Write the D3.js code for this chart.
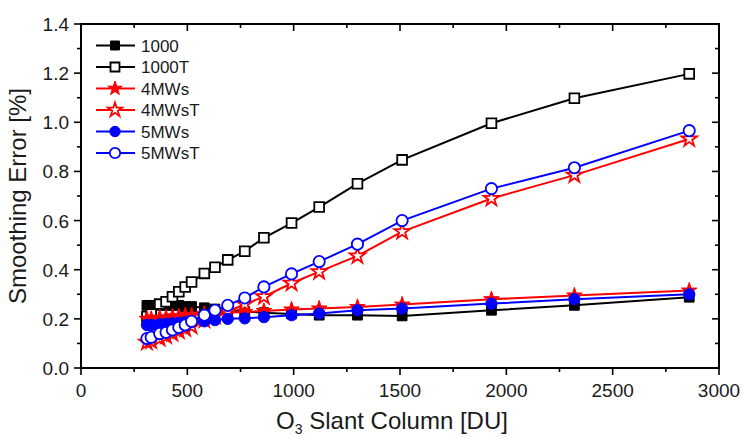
<!DOCTYPE html>
<meta charset="utf-8">
<style>
body { margin: 0; background: #fff; font-family: "Liberation Sans", Arial, sans-serif; }
svg text { fill: #1a1a1a; }
</style>
<body>
<div id="chart"></div>
<script src="https://d3js.org/d3.v7.min.js"></script>
<script>

// O3 slant column [DU]
const slant = [310, 330, 370, 400, 430, 460, 490, 520, 580, 630, 690, 770, 860, 990, 1120, 1300, 1510, 1930, 2320, 2860];

const err1000   = [0.255, 0.255, 0.255, 0.255, 0.255, 0.255, 0.25, 0.25, 0.245, 0.24, 0.235, 0.23, 0.225, 0.22, 0.215, 0.215, 0.212, 0.235, 0.255, 0.288];
const err1000T  = [0.21, 0.22, 0.26, 0.27, 0.29, 0.31, 0.33, 0.35, 0.385, 0.41, 0.44, 0.475, 0.53, 0.59, 0.655, 0.75, 0.847, 0.996, 1.098, 1.197];
const err4MWs   = [0.2, 0.2, 0.205, 0.205, 0.21, 0.21, 0.215, 0.215, 0.22, 0.22, 0.225, 0.228, 0.232, 0.238, 0.242, 0.248, 0.258, 0.28, 0.295, 0.315];
const err4MWsT  = [0.105, 0.11, 0.12, 0.13, 0.14, 0.15, 0.16, 0.17, 0.195, 0.21, 0.23, 0.26, 0.29, 0.345, 0.392, 0.456, 0.555, 0.69, 0.785, 0.932];
const err5MWs   = [0.175, 0.175, 0.178, 0.18, 0.182, 0.184, 0.186, 0.188, 0.19, 0.195, 0.2, 0.202, 0.207, 0.215, 0.222, 0.235, 0.242, 0.262, 0.28, 0.30];
const err5MWsT  = [0.12, 0.125, 0.14, 0.145, 0.155, 0.165, 0.175, 0.19, 0.215, 0.235, 0.255, 0.285, 0.33, 0.383, 0.433, 0.504, 0.60, 0.73, 0.815, 0.966];

const seriesNames = ["1000", "1000T", "4MWs", "4MWsT", "5MWs", "5MWsT"];
const seriesVals  = [err1000, err1000T, err4MWs, err4MWsT, err5MWs, err5MWsT];
const seriesColor = ["#000", "#000", "#ff0000", "#ff0000", "#0000ff", "#0000ff"];
const seriesShape = ["square", "square", "star", "star", "circle", "circle"];
const seriesOpen  = [false, true, false, true, false, true];

const xTicks = [0, 500, 1000, 1500, 2000, 2500, 3000];
const yTicks = [0.0, 0.2, 0.4, 0.6, 0.8, 1.0, 1.2, 1.4];

const width = 742, height = 439;
const margin = {top: 24, right: 23, bottom: 71, left: 81};

const svg = d3.select("#chart").append("svg")
  .attr("width", width)
  .attr("height", height);

const x = d3.scaleLinear().domain([0, 3000]).range([margin.left, width - margin.right]);
const y = d3.scaleLinear().domain([0, 1.4]).range([height - margin.bottom, margin.top]);

const x0 = x.range()[0], x1 = x.range()[1], y0 = y.range()[0], y1 = y.range()[1];

// frame
svg.append("rect")
  .attr("x", x0).attr("y", y1)
  .attr("width", x1 - x0).attr("height", y0 - y1)
  .attr("fill", "none").attr("stroke", "#000").attr("stroke-width", 2);

const minorX = d3.range(0, 3001, 250);
const minorY = d3.range(0, 1.41, 0.1);

const tk = svg.append("g").attr("stroke", "#000").attr("stroke-width", 1.6);
// bottom (out) + top (in)
minorX.forEach((t, i) => {
  const L = (i % 2 === 0) ? 7 : 4;
  tk.append("line").attr("x1", x(t)).attr("x2", x(t)).attr("y1", y0).attr("y2", y0 + L);
  tk.append("line").attr("x1", x(t)).attr("x2", x(t)).attr("y1", y1).attr("y2", y1 + L);
});
// left (out) + right (in)
minorY.forEach((t, i) => {
  const L = (i % 2 === 0) ? 7 : 4;
  tk.append("line").attr("y1", y(t)).attr("y2", y(t)).attr("x1", x0).attr("x2", x0 - L);
  tk.append("line").attr("y1", y(t)).attr("y2", y(t)).attr("x1", x1).attr("x2", x1 - L);
});

svg.append("g").selectAll("text")
  .data(xTicks).join("text")
  .attr("x", d => x(d)).attr("y", y0 + 29)
  .attr("text-anchor", "middle")
  .attr("font-size", "19px")
  .text(d => d);

svg.append("g").selectAll("text")
  .data(yTicks).join("text")
  .attr("x", x0 - 12).attr("y", d => y(d) + 7)
  .attr("text-anchor", "end")
  .attr("font-size", "19px")
  .text(d => d.toFixed(1));

// axis titles
svg.append("text")
  .attr("transform", `translate(26,${(y0 + y1) / 2}) rotate(-90)`)
  .attr("text-anchor", "middle")
  .attr("font-size", "24px")
  .text("Smoothing Error [%]");

const xt = svg.append("text")
  .attr("x", (x0 + x1) / 2 - 8).attr("y", 429)
  .attr("text-anchor", "middle")
  .attr("font-size", "24px");
xt.append("tspan").text("O");
xt.append("tspan").attr("font-size", "14px").attr("dy", 5).text("3");
xt.append("tspan").attr("dy", -5).text(" Slant Column [DU]");

// markers
function symbolPath(shape, k) {
  if (shape === "square") return d3.symbol(d3.symbolSquare, 95 * k)();
  if (shape === "star") return d3.symbol(d3.symbolStar, 75 * k)();
  return d3.symbol(d3.symbolCircle, 100 * k)();
}

const line = d3.line().x(d => x(d[0])).y(d => y(d[1]));

seriesNames.forEach((name, si) => {
  const pts = slant.map((s, i) => [s, seriesVals[si][i]]);
  const g = svg.append("g");
  g.append("path")
    .attr("d", line(pts))
    .attr("fill", "none")
    .attr("stroke", seriesColor[si])
    .attr("stroke-width", 2);
  g.selectAll("path.m").data(pts).join("path")
    .attr("class", "m")
    .attr("transform", d => `translate(${x(d[0])},${y(d[1])})`)
    .attr("d", symbolPath(seriesShape[si], 1))
    .attr("fill", seriesOpen[si] ? "#fff" : seriesColor[si])
    .attr("stroke", seriesColor[si])
    .attr("stroke-width", seriesOpen[si] ? 1.8 : 1);
});

// legend
const leg = svg.append("g");
seriesNames.forEach((name, i) => {
  const ly = 45.5 + i * 21.5;
  leg.append("line")
    .attr("x1", 96).attr("x2", 135).attr("y1", ly).attr("y2", ly)
    .attr("stroke", seriesColor[i]).attr("stroke-width", 2);
  leg.append("path")
    .attr("transform", `translate(115,${ly})`)
    .attr("d", symbolPath(seriesShape[i], 0.85))
    .attr("fill", seriesOpen[i] ? "#fff" : seriesColor[i])
    .attr("stroke", seriesColor[i])
    .attr("stroke-width", seriesOpen[i] ? 1.8 : 1);
  leg.append("text")
    .attr("x", 141).attr("y", ly + 6)
    .attr("font-size", "17px")
    .text(name);
});

</script>
